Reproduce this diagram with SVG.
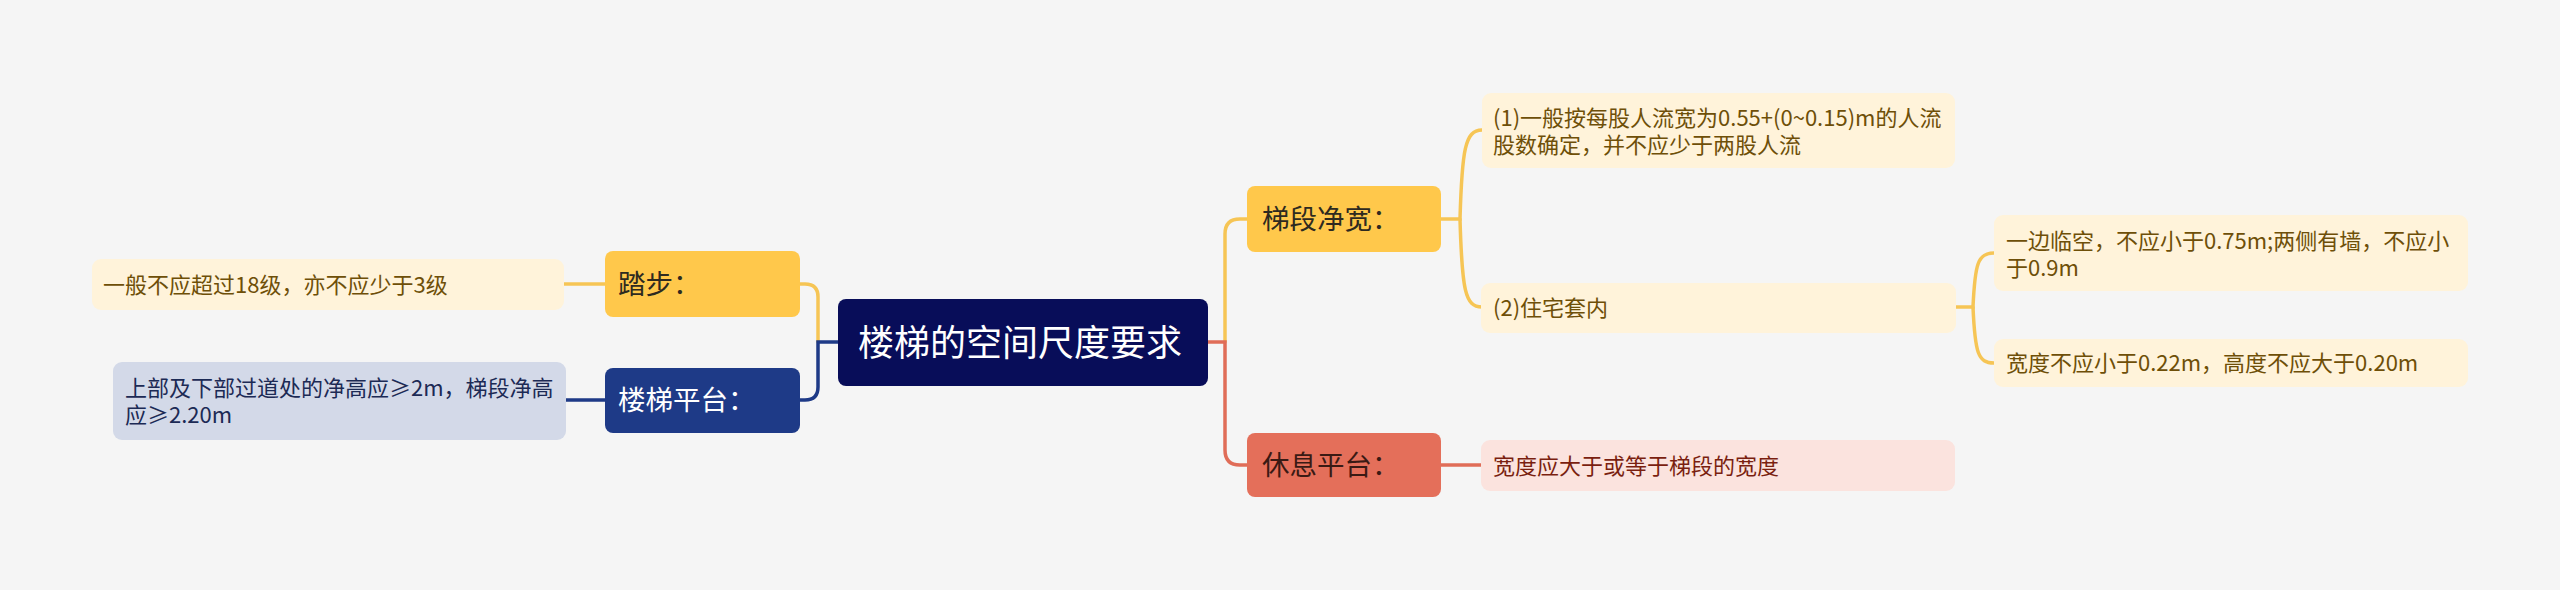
<svg xmlns="http://www.w3.org/2000/svg" width="2560" height="590" viewBox="0 0 2560 590">
<style>
text{font-family:"Noto Sans CJK SC","Noto Sans",sans-serif;}
.root-t{font-size:36px;fill:#ffffff;}
.br-t{font-size:27.5px;}
.leaf-t{font-size:22px;}
.c{fill:none;stroke-width:3.5;stroke-linecap:round;}
.cy{stroke:#F6C555;}
.cb{stroke:#1E3A87;}
.cr{stroke:#E06D58;}
.yleaf{fill:#FFF3DA;}
.yleaf-t{fill:#6E4F08;}
</style>
<rect x="0" y="0" width="2560" height="590" fill="#F5F5F5"/>
<g id="connectors">
<path class="c cy" d="M818 342 V297 Q818 284 805 284 H800"/>
<path class="c cb" d="M838 342 H818 V387 Q818 400 805 400 H800"/>
<path class="c cy" d="M605 284 H563"/>
<path class="c cb" d="M605 400 H565"/>
<path class="c cy" d="M1225 342 V234 Q1225 219 1240 219 H1247"/>
<path class="c cr" d="M1208 342 H1225 V450 Q1225 465 1240 465 H1247"/>
<path class="c cy" d="M1441 219 H1460 C1462 150 1465 130 1482 130"/>
<path class="c cy" d="M1460 219 C1462 290 1465 307 1482 307"/>
<path class="c cr" d="M1441 465 H1481"/>
<path class="c cy" d="M1956 307 H1973 C1975 263 1978 253 1994 253"/>
<path class="c cy" d="M1973 307 C1975 353 1978 363 1994 363"/>
</g>
<g id="root">
<rect x="838" y="299" width="370" height="87" rx="8" fill="#080D59"/>
<text class="root-t" x="858" y="356">楼梯的空间尺度要求</text>
</g>
<g id="n-tabu">
<rect x="605" y="251" width="195" height="66" rx="8" fill="#FFC84B"/>
<text class="br-t" x="618" y="294" fill="#2E2A20">踏步：</text>
</g>
<g id="n-tabu-leaf">
<rect class="yleaf" x="92" y="259" width="472" height="51" rx="9"/>
<text class="leaf-t yleaf-t" x="103" y="293">一般不应超过18级，亦不应少于3级</text>
</g>
<g id="n-pingtai">
<rect x="605" y="368" width="195" height="65" rx="8" fill="#1E3A87"/>
<text class="br-t" x="618" y="410" fill="#ffffff">楼梯平台：</text>
</g>
<g id="n-pingtai-leaf">
<rect x="113" y="362" width="453" height="78" rx="9" fill="#D3D9E8"/>
<text class="leaf-t" x="125" y="396" fill="#1C2A55">上部及下部过道处的净高应≥2m，梯段净高</text>
<text class="leaf-t" x="125" y="423" fill="#1C2A55">应≥2.20m</text>
</g>
<g id="n-jingkuan">
<rect x="1247" y="186" width="194" height="66" rx="8" fill="#FFC84B"/>
<text class="br-t" x="1262" y="229" fill="#2E2A20">梯段净宽：</text>
</g>
<g id="n-jk1">
<rect class="yleaf" x="1482" y="93" width="473" height="75" rx="9"/>
<text class="leaf-t yleaf-t" x="1493" y="126">(1)一般按每股人流宽为0.55+(0~0.15)m的人流</text>
<text class="leaf-t yleaf-t" x="1493" y="153">股数确定，并不应少于两股人流</text>
</g>
<g id="n-jk2">
<rect class="yleaf" x="1481" y="283" width="475" height="50" rx="9"/>
<text class="leaf-t yleaf-t" x="1493" y="316">(2)住宅套内</text>
</g>
<g id="n-jk2a">
<rect class="yleaf" x="1994" y="215" width="474" height="76" rx="9"/>
<text class="leaf-t yleaf-t" x="2006" y="249">一边临空，不应小于0.75m;两侧有墙，不应小</text>
<text class="leaf-t yleaf-t" x="2006" y="276">于0.9m</text>
</g>
<g id="n-jk2b">
<rect class="yleaf" x="1994" y="339" width="474" height="48" rx="9"/>
<text class="leaf-t yleaf-t" x="2006" y="371">宽度不应小于0.22m，高度不应大于0.20m</text>
</g>
<g id="n-xiuxi">
<rect x="1247" y="433" width="194" height="64" rx="8" fill="#E46F5A"/>
<text class="br-t" x="1262" y="475" fill="#3A1A14">休息平台：</text>
</g>
<g id="n-xiuxi-leaf">
<rect x="1481" y="440" width="474" height="51" rx="9" fill="#FBE3DE"/>
<text class="leaf-t" x="1493" y="474" fill="#7A1F10">宽度应大于或等于梯段的宽度</text>
</g>
</svg>
